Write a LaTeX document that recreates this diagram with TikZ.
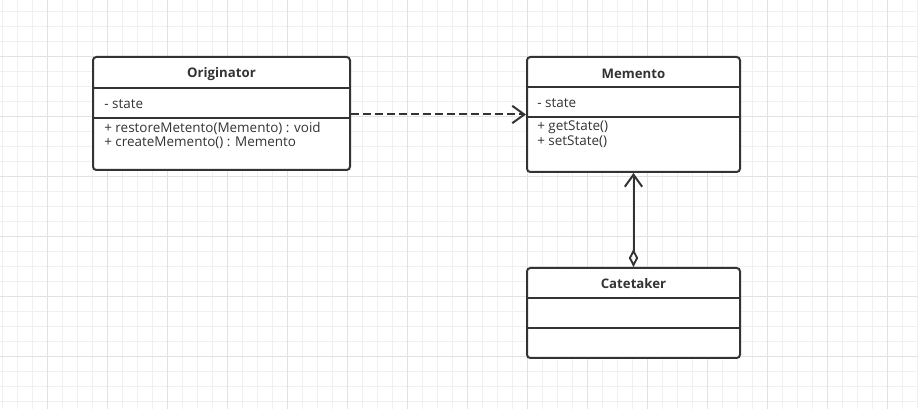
\documentclass[tikz,border=0pt]{standalone}
\usepackage{fontspec}
\setmainfont{Open Sans}
\usetikzlibrary{arrows.meta}
\begin{document}
\begin{tikzpicture}[x=0.75pt,y=-0.75pt,
  umlbox/.style={draw=black!80, line width=1.5pt, rounded corners=2.5pt, inner sep=0pt, fill=white},
  divider/.style={draw=black!80, line width=1.5pt},
  hdr/.style={font=\bfseries\fontsize{9.9pt}{12pt}\selectfont, text=black!80, inner sep=0pt},
  txt/.style={font=\fontsize{10.1pt}{12pt}\selectfont, text=black!80, anchor=west, inner sep=0pt},
  conn/.style={draw=black!80, line width=1.5pt}]
\useasboundingbox (0,0) rectangle (918,409);
\fill[white] (0,0) rectangle (918,409);
\foreach \x in {2,17,...,917} \draw[line width=0.75pt, draw={rgb,255:red,240;green,240;blue,240}] (\x,0) -- (\x,409);
\foreach \y in {12,27,...,409} \draw[line width=0.75pt, draw={rgb,255:red,240;green,240;blue,240}] (0,\y) -- (918,\y);
\foreach \x in {47,107,...,917} \draw[line width=0.75pt, draw={rgb,255:red,226;green,226;blue,226}] (\x,0) -- (\x,409);
\foreach \y in {57,117,...,409} \draw[line width=0.75pt, draw={rgb,255:red,226;green,226;blue,226}] (0,\y) -- (918,\y);

% Originator
\node[umlbox, minimum width=192.75pt, minimum height=84.75pt] (orig) at (221.5,113.5) {};
\draw[divider] (93,88) -- (350,88);
\draw[divider] (93,118) -- (350,118);
\node[hdr] (origname) at (221.5,74) {Originator};
\node[txt] (origattr) at (104,104) {- state};
\node[txt] (origm1) at (104,128) {+ restoreMetento(Memento) : void};
\node[txt] (origm2) at (104,143) {+ createMemento() : Memento};

% Memento
\node[umlbox, minimum width=159.75pt, minimum height=86.25pt] (memo) at (633.5,114.5) {};
\draw[divider] (527,87) -- (740,87);
\draw[divider] (527,117) -- (740,117);
\node[hdr] (memoname) at (633.5,74) {Memento};
\node[txt] (memoattr) at (537,103) {- state};
\node[txt] (memom1) at (537,127) {+ getState()};
\node[txt] (memom2) at (537,142) {+ setState()};

% Catetaker
\node[umlbox, minimum width=159.75pt, minimum height=67.5pt] (cate) at (633.5,313) {};
\draw[divider] (527,298) -- (740,298);
\draw[divider] (527,328) -- (740,328);
\node[hdr] (catename) at (633.5,284) {Catetaker};

% connectors
\draw[conn, dash pattern=on 6pt off 3pt, -{Straight Barb[length=9pt,width=13pt,line width=1.5pt]}] (orig.east |- memo.west) -- (memo.west);
\draw[conn, {Diamond[open,length=13.5pt,width=7pt,line width=1.4pt]}-{Straight Barb[length=9pt,width=13pt,line width=1.5pt]}] (cate.north) -- (memo.south);
\end{tikzpicture}
\end{document}
